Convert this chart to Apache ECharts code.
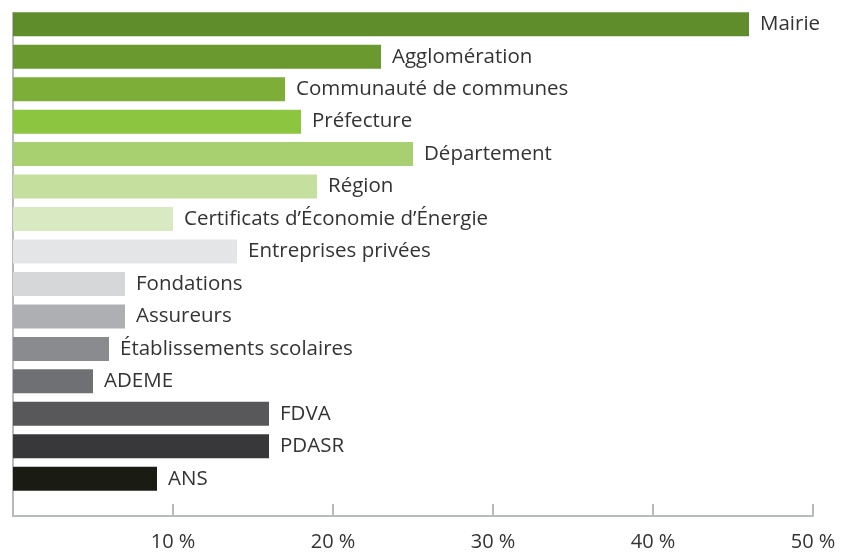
<!DOCTYPE html>
<html>
<head>
<meta charset="utf-8">
<script src="https://cdn.jsdelivr.net/npm/echarts@6/dist/echarts.min.js"></script>
<style>
  html, body { margin: 0; padding: 0; background: #fff; }
  #chart { width: 841px; height: 552px; }
</style>
</head>
<body>
<div id="chart"></div>
<script>
// categories, top to bottom
const categories = [
  'Mairie', 'Agglomération', 'Communauté de communes', 'Préfecture', 'Département',
  'Région', 'Certificats d’Économie d’Énergie', 'Entreprises privées', 'Fondations',
  'Assureurs', 'Établissements scolaires', 'ADEME', 'FDVA', 'PDASR', 'ANS'
];
// share of answers, in %
const values = [46, 23, 17, 18, 25, 19, 10, 14, 7, 7, 6, 5, 16, 16, 9];
const barColors = [
  '#5f8d2c', '#6a9a2f', '#7daf38', '#8cc540', '#a9d070',
  '#c5df9e', '#d9e9c2', '#e4e5e7', '#d6d7d9', '#aeafb3',
  '#8a8b8f', '#6f7074', '#58585a', '#38383a', '#1a1c14'
];
const xMin = 0, xMax = 50, xStep = 10;

const axisGray = '#b9babe';
const chart = echarts.init(document.getElementById('chart'));

const option = {
  animation: false,
  textStyle: { fontFamily: 'Open Sans' },
  // grid 0 holds the bars, grid 1 only draws the axes (they run a bit below the last bar)
  grid: [
    { left: 13, right: 28, top: 8, bottom: 57 },
    { left: 13, right: 28, top: 13, bottom: 34 }
  ],
  xAxis: [{
    gridIndex: 0,
    type: 'value',
    min: xMin, max: xMax, interval: xStep,
    show: false
  }, {
    gridIndex: 1,
    type: 'value',
    min: xMin, max: xMax, interval: xStep,
    axisLine: { show: true, lineStyle: { color: axisGray, width: 2 } },
    axisTick: { show: true, inside: true, length: 12, lineStyle: { color: axisGray, width: 2 } },
    axisLabel: {
      margin: 16,
      fontSize: 20,
      color: '#333',
      formatter: v => (v === 0 ? '' : v + ' %')
    },
    splitLine: { show: false }
  }],
  yAxis: [{
    gridIndex: 0,
    type: 'category',
    inverse: true,
    data: categories,
    show: false
  }, {
    gridIndex: 1,
    type: 'value',
    min: 0, max: 1,
    axisLine: { show: true, lineStyle: { color: axisGray, width: 2 } },
    axisTick: { show: false },
    axisLabel: { show: false },
    splitLine: { show: false }
  }],
  series: [{
    type: 'bar',
    xAxisIndex: 0,
    yAxisIndex: 0,
    barWidth: 24,
    data: values.map((v, i) => ({ value: v, itemStyle: { color: barColors[i] } })),
    label: {
      show: true,
      position: 'right',
      distance: 11,
      fontSize: 20.5,
      color: '#333',
      formatter: p => p.name
    }
  }]
};

chart.setOption(option);
</script>
</body>
</html>
